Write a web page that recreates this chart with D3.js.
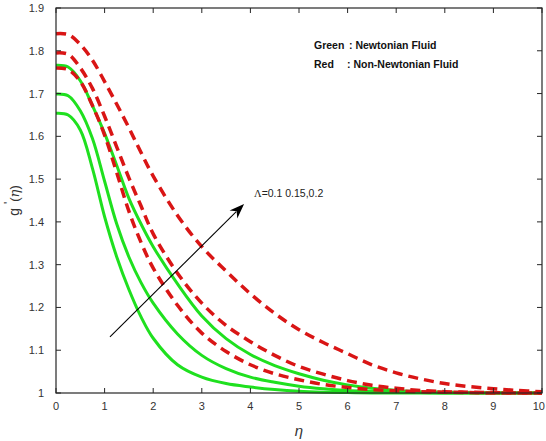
<!DOCTYPE html>
<html>
<head>
<meta charset="utf-8">
<script src="https://cdn.jsdelivr.net/npm/d3@7"></script>
<style>
  html, body { margin:0; padding:0; background:#fff; }
  svg text { font-family: "Liberation Sans", Arial, sans-serif; }
</style>
</head>
<body>
<div id="chart"></div>
<script>
// ----- DATA -----
const eta = [0,0.25,0.5,0.75,1,1.25,1.5,1.75,2,2.5,3,3.5,4,4.5,5,5.5,6,6.5,7,7.5,8,8.5,9,9.5,10];

// Newtonian (green, solid)
const green1 = [1.766,1.762,1.73,1.672,1.607,1.532,1.455,1.395,1.342,1.255,1.18,1.127,1.09,1.064,1.045,1.03,1.019,1.011,1.006,1.003,1.002,1.001,1.0,1.0,1.0];
const green2 = [1.699,1.695,1.66,1.595,1.495,1.395,1.318,1.258,1.21,1.138,1.088,1.057,1.037,1.025,1.016,1.01,1.006,1.004,1.002,1.001,1.0,1.0,1.0,1.0,1.0];
const green3 = [1.654,1.65,1.615,1.525,1.412,1.318,1.242,1.178,1.128,1.066,1.037,1.022,1.014,1.008,1.004,1.002,1.001,1.0,1.0,1.0,1.0,1.0,1.0,1.0,1.0];

// Non-Newtonian (red, dashed)
const red1 = [1.84,1.838,1.815,1.778,1.728,1.675,1.62,1.562,1.507,1.415,1.342,1.285,1.232,1.186,1.148,1.118,1.092,1.066,1.047,1.033,1.022,1.015,1.01,1.006,1.003];
const red2 = [1.795,1.792,1.76,1.712,1.647,1.575,1.503,1.437,1.372,1.28,1.21,1.158,1.12,1.088,1.062,1.044,1.029,1.018,1.011,1.006,1.003,1.002,1.001,1.0,1.0];
const red3 = [1.76,1.756,1.728,1.672,1.603,1.515,1.425,1.352,1.292,1.205,1.14,1.097,1.066,1.045,1.031,1.02,1.013,1.008,1.005,1.003,1.002,1.001,1.0,1.0,1.0];

const xTicks = [0,1,2,3,4,5,6,7,8,9,10];
const yTicks = [1,1.1,1.2,1.3,1.4,1.5,1.6,1.7,1.8,1.9];

const legendLines = [["Green", ": Newtonian Fluid"], ["Red", ": Non-Newtonian Fluid"]];
const arrowFrom = [1.11, 1.131];
const arrowTo = [3.87, 1.442];
const arrowText = "=0.1 0.15,0.2";

// ----- LAYOUT -----
const W = 546, H = 441;
const margin = {top:8, right:4, bottom:48, left:56};

const svg = d3.select("#chart").append("svg")
    .attr("width", W).attr("height", H);

const x = d3.scaleLinear().domain([0,10]).range([margin.left, W - margin.right]);
const y = d3.scaleLinear().domain([1,1.9]).range([H - margin.bottom, margin.top]);

const axisColor = "#262626";

// curves
const line = d3.line()
    .x((d,i) => x(eta[i]))
    .y(d => y(d))
    .curve(d3.curveCatmullRom.alpha(0.5));

const greens = [green1, green2, green3];
const reds = [red1, red2, red3];

const plot = svg.append("g");

greens.forEach(s => {
    plot.append("path")
        .attr("d", line(s))
        .attr("fill","none")
        .attr("stroke","#1fe01f")
        .attr("stroke-width",3);
});
reds.forEach(s => {
    plot.append("path")
        .attr("d", line(s))
        .attr("fill","none")
        .attr("stroke","#d91515")
        .attr("stroke-width",3.5)
        .attr("stroke-dasharray","10,6");
});

// box + ticks (inward, all four sides)
const x0 = x(0), x1 = x(10), y0 = y(1), y1 = y(1.9);
svg.append("rect")
    .attr("x", x0).attr("y", y1)
    .attr("width", x1 - x0).attr("height", y0 - y1)
    .attr("fill","none").attr("stroke",axisColor).attr("stroke-width",1.2);

const tl = 5;
const ticks = svg.append("g").attr("stroke", axisColor).attr("stroke-width",1);
xTicks.forEach(t => {
    ticks.append("line").attr("x1",x(t)).attr("x2",x(t)).attr("y1",y0).attr("y2",y0-tl);
    ticks.append("line").attr("x1",x(t)).attr("x2",x(t)).attr("y1",y1).attr("y2",y1+tl);
});
yTicks.forEach(t => {
    ticks.append("line").attr("x1",x0).attr("x2",x0+tl).attr("y1",y(t)).attr("y2",y(t));
    ticks.append("line").attr("x1",x1).attr("x2",x1-tl).attr("y1",y(t)).attr("y2",y(t));
});

// tick labels
svg.append("g").selectAll("text").data(xTicks).join("text")
    .attr("x", d => d === 10 ? W - 1 : x(d))
    .attr("y", y0 + 17)
    .attr("text-anchor", d => d === 10 ? "end" : "middle")
    .attr("font-size",11).attr("fill","#333")
    .text(d => d);

svg.append("g").selectAll("text").data(yTicks).join("text")
    .attr("x", x0 - 12).attr("y", d => y(d) + 4)
    .attr("text-anchor","end")
    .attr("font-size",11).attr("fill","#333")
    .text(d => d3.format("")(+d.toFixed(1)));

// axis labels
svg.append("text")
    .attr("x", (x0 + x1)/2).attr("y", 436)
    .attr("text-anchor","middle")
    .attr("font-family","'DejaVu Serif', 'Liberation Serif', serif")
    .attr("font-style","italic")
    .attr("font-size",15).attr("fill","#333")
    .text("η");

const yl = svg.append("text")
    .attr("transform", `translate(19,${(y0 + y1)/2}) rotate(-90)`)
    .attr("text-anchor","middle")
    .attr("font-size",14).attr("fill","#333");
yl.append("tspan").text("g ");
yl.append("tspan").attr("dy",-6).attr("font-size",12).text("'");
yl.append("tspan").attr("dy",6).attr("font-size",13).text("(");
yl.append("tspan").attr("font-family","'DejaVu Serif', serif").attr("font-style","italic").attr("font-size",13).text("η");
yl.append("tspan").attr("font-size",13).text(")");

// legend text
const lg = svg.append("g");
legendLines.forEach((l,i) => {
    const t = lg.append("text")
        .attr("y", 49 + i*19)
        .attr("font-size",10.5).attr("font-weight","bold").attr("fill","#111");
    t.append("tspan").attr("x",314).text(l[0]);
    t.append("tspan").attr("x", i === 0 ? 349 : 347).text(l[1]);
});

// arrow annotation
const ax1 = x(arrowFrom[0]), ay1 = y(arrowFrom[1]);
const ax2 = x(arrowTo[0]), ay2 = y(arrowTo[1]);
const ang = Math.atan2(ay2 - ay1, ax2 - ax1);
const hl = 15, hw = 5.5;
const bx = ax2 - hl*Math.cos(ang), by = ay2 - hl*Math.sin(ang);
svg.append("line")
    .attr("x1",ax1).attr("y1",ay1).attr("x2",bx + 4*Math.cos(ang)).attr("y2",by + 4*Math.sin(ang))
    .attr("stroke","#000").attr("stroke-width",1.1);
const nx = -Math.sin(ang), ny = Math.cos(ang);
const inner = 0.7;
svg.append("path")
    .attr("d", `M${ax2},${ay2} L${bx + hw*nx},${by + hw*ny} L${ax2 - hl*inner*Math.cos(ang)},${ay2 - hl*inner*Math.sin(ang)} L${bx - hw*nx},${by - hw*ny} Z`)
    .attr("fill","#000");

const at = svg.append("text")
    .attr("x", 254).attr("y", 197)
    .attr("font-size",10.5).attr("fill","#222");
at.append("tspan").attr("font-family","'Liberation Serif', serif").text("Λ");
at.append("tspan").text(arrowText);
</script>
</body>
</html>
